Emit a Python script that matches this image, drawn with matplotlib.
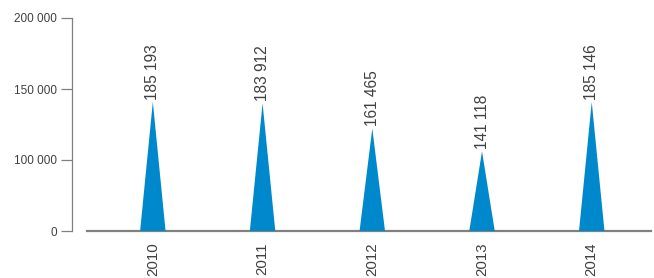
import matplotlib
matplotlib.use("Agg")
import matplotlib.pyplot as plt
import numpy as np
from matplotlib.ticker import FuncFormatter

# data
years = ["2010", "2011", "2012", "2013", "2014"]
values = [185193, 183912, 161465, 141118, 185146]
y_ticks = [0, 100000, 150000, 200000]
# the spikes in the original rise from a raised floor on their own scale
spike_floor = 70000
spike_span = 190000

blue = "#0088cc"
grey = "#808080"
text_col = "#404040"
plt.rcParams["font.family"] = ["Liberation Sans", "DejaVu Sans"]


def spaced(v, pos=None):
    return f"{int(round(v)):,}".replace(",", " ")


# y axis of the original: 0-100 000 squeezed into the same step as 50 000
def fwd(v):
    v = np.asarray(v, dtype=float)
    return np.where(v <= 100000, v / 100000, 1 + (v - 100000) / 50000)


def inv(p):
    p = np.asarray(p, dtype=float)
    return np.where(p <= 1, p * 100000, 100000 + (p - 1) * 50000)


fig = plt.figure(figsize=(6.54, 2.78), dpi=100)
ax = fig.add_axes([87 / 654, 1 - 231 / 278, (651 - 87) / 654, (231 - 18) / 278])
x = list(range(len(years)))

ax.set_yscale("function", functions=(fwd, inv))
ax.set_xlim(-0.6, 4.54)
ax.set_ylim(0, 200000)
ax.set_yticks(y_ticks)
ax.yaxis.set_major_formatter(FuncFormatter(spaced))
ax.yaxis.set_minor_locator(plt.NullLocator())
ax.set_xticks(x)
ax.set_xticklabels(years, rotation=90, fontsize=10.8, color=text_col, va="top")

for s in ["top", "right"]:
    ax.spines[s].set_visible(False)
ax.spines["left"].set_position(("outward", 10.8))
ax.spines["left"].set_color(grey)
ax.spines["left"].set_linewidth(0.9)
ax.spines["bottom"].set_color(grey)
ax.spines["bottom"].set_linewidth(1.6)
ax.tick_params(axis="y", length=8, width=0.9, color=grey, pad=3,
               labelsize=8.5, labelcolor=text_col)
ax.tick_params(axis="x", length=0, pad=8)

# spikes on a hidden twin axis
ax2 = ax.twinx()
ax2.set_ylim(spike_floor, spike_floor + spike_span)
ax2.axis("off")
hw = 0.116
for i, v in zip(x, values):
    ax2.fill([i - hw, i, i + hw], [spike_floor, v, spike_floor], color=blue, lw=0)
    ax2.annotate(spaced(v), (i, v), xytext=(0, 1.5), textcoords="offset points",
                 rotation=90, ha="center", va="bottom", fontsize=11.2, color=text_col)

fig.savefig("out.png", dpi=100)
